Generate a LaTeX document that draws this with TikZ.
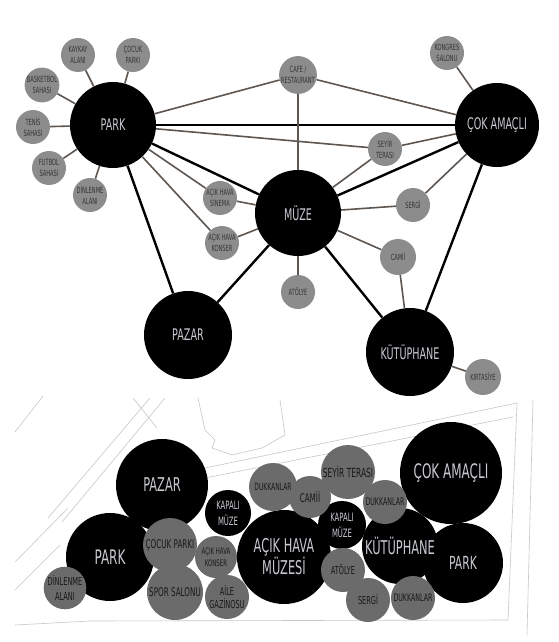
\documentclass[tikz,border=0pt]{standalone}
\usepackage{fontspec}
\newfontfamily\bdfont[FakeStretch=0.6]{DejaVu Sans}
\usetikzlibrary{positioning}
\definecolor{bdgray}{HTML}{8C8C8C}
\definecolor{spgray}{HTML}{6B6B6B}
\definecolor{bdline}{HTML}{5E5650}
\definecolor{bdlight}{HTML}{C8CAD2}
\tikzset{
  bdmain/.style={
    circle, fill=black, minimum size=86pt, inner sep=0pt,
    text=bdlight, font=\bdfont\fontsize{16}{18}\selectfont
  },
  bdsub/.style={
    circle, fill=bdgray, minimum size=34pt, inner sep=0pt,
    align=center, text=black!80, font=\bdfont\fontsize{8.5}{11}\selectfont
  },
  bdmajor/.style={line width=2.4pt, draw=black},
  bdminor/.style={line width=1.6pt, draw=bdline},
  spbig/.style={circle, fill=black, inner sep=0pt, align=center, text=bdlight},
  spsmall/.style={circle, fill=spgray, inner sep=0pt, align=center, text=black!90},
  spplan/.style={draw=black!22, line width=0.6pt},
}

\begin{document}
\begin{tikzpicture}[x=1pt, y=-1pt]
  \fill[white] (0,0) rectangle (559,642);
  \useasboundingbox (0,0) rectangle (559,642);

  % relation diagram
  \node (n1) [bdmain] at (113,125) {PARK};
  \node (n2) [bdmain, minimum size=84pt] at (497,125) {ÇOK AMAÇLI};
  \node (n3) [bdmain] at (298,213) {MÜZE};
  \node (n4) [bdmain, minimum size=88pt] at (188,335) {PAZAR};
  \node (n5) [bdmain, minimum size=88pt] at (410,352) {KÜTÜPHANE};
  \node (n6) [bdsub] at (78,55) {KAYKAY\\ALANI};
  \node (n7) [bdsub] at (133,55) {ÇOCUK\\PARKI};
  \node (n8) [bdsub] at (42,85) {BASKETBOL\\SAHASI};
  \node (n9) [bdsub] at (33,127) {TENİS\\SAHASI};
  \node (n10) [bdsub] at (49,168) {FUTBOL\\SAHASI};
  \node (n11) [bdsub] at (90,195) {DİNLENME\\ALANI};
  \node (n12) [bdsub] at (298,75) {CAFE /\\RESTAURANT};
  \node (n13) [bdsub] at (447,53) {KONGRES\\SALONU};
  \node (n14) [bdsub] at (385,149) {SEYİR\\TERASI};
  \node (n15) [bdsub] at (220,198) {AÇIK HAVA\\SİNEMA};
  \node (n16) [bdsub] at (222,243) {AÇIK HAVA\\KONSER};
  \node (n17) [bdsub] at (413,205) {SERGİ};
  \node (n18) [bdsub, minimum size=36pt] at (398,257) {CAMİİ};
  \node (n19) [bdsub] at (298,292) {ATÖLYE};
  \node (n20) [bdsub, minimum size=36pt] at (483,377) {KIRTASİYE};
  \draw[bdmajor] (n1)--(n2); \draw[bdmajor] (n1)--(n3); \draw[bdmajor] (n1)--(n4);
  \draw[bdmajor] (n3)--(n4); \draw[bdmajor] (n3)--(n2); \draw[bdmajor] (n3)--(n5);
  \draw[bdmajor] (n2)--(n5);
  \draw[bdminor] (n1)--(n6); \draw[bdminor] (n1)--(n7); \draw[bdminor] (n1)--(n8);
  \draw[bdminor] (n1)--(n9); \draw[bdminor] (n1)--(n10); \draw[bdminor] (n1)--(n11);
  \draw[bdminor] (n1)--(n12); \draw[bdminor] (n12)--(n2); \draw[bdminor] (n12)--(n3);
  \draw[bdminor] (n1)--(n14); \draw[bdminor] (n14)--(n2); \draw[bdminor] (n14)--(n3);
  \draw[bdminor] (n1)--(n15); \draw[bdminor] (n15)--(n3);
  \draw[bdminor] (n1)--(n16); \draw[bdminor] (n16)--(n3);
  \draw[bdminor] (n3)--(n17); \draw[bdminor] (n17)--(n2);
  \draw[bdminor] (n3)--(n18); \draw[bdminor] (n18)--(n5);
  \draw[bdminor] (n3)--(n19); \draw[bdminor] (n5)--(n20);
  \draw[bdminor] (n2)--(n13);

  % site plan
  \draw[spplan] (15,432)--(43,396);
  \draw[spplan] (15,562)--(68,508);
  \draw[spplan] (15,590)--(60,545);
  \draw[spplan] (48,518)--(150,398);
  \draw[spplan] (62,522)--(165,398);
  \draw[spplan] (133,398)--(157,428);
  \draw[spplan] (198,398)--(205,430)--(215,440)--(212,448)--(232,455)--(262,448)--(285,435)--(280,400);
  \draw[spplan] (205,468)--(517,403);
  \draw[spplan] (205,478)--(513,417);
  \draw[spplan] (517,403)--(508,620);
  \draw[spplan] (533,400)--(527,635);
  \draw[spplan] (15,625)--(90,621)--(508,620);

  % site placement
  \node (m1) [spbig, minimum size=92pt, font=\bdfont\fontsize{19}{21}\selectfont] at (162,485) {PAZAR};
  \node (m2) [spbig, minimum size=88pt, font=\bdfont\fontsize{20}{22}\selectfont] at (110,557) {PARK};
  \node (m3) [spbig, minimum size=46pt, font=\bdfont\fontsize{11.5}{16}\selectfont] at (228,513) {KAPALI\\MÜZE};
  \node (m4) [spbig, minimum size=94pt, font=\bdfont\fontsize{19}{21}\selectfont] at (284,557) {AÇIK HAVA\\MÜZESİ};
  \node (m5) [spbig, minimum size=48pt, font=\bdfont\fontsize{11.5}{16}\selectfont] at (342,525) {KAPALI\\MÜZE};
  \node (m8) [spbig, minimum size=80pt, font=\bdfont\fontsize{18}{20}\selectfont] at (463,563) {PARK};
  \node (m6) [spbig, minimum size=76pt, font=\bdfont\fontsize{19}{21}\selectfont] at (400,546) {KÜTÜPHANE};
  \node (m7) [spbig, minimum size=102pt, font=\bdfont\fontsize{20}{22}\selectfont] at (451,473) {ÇOK AMAÇLI};
  \node (m9) [spsmall, minimum size=40pt, font=\bdfont\fontsize{11}{15}\selectfont] at (65,588) {DİNLENME\\ALANI};
  \node (m10) [spsmall, minimum size=54pt, font=\bdfont\fontsize{12}{14}\selectfont] at (170,545) {ÇOCUK PARKI};
  \node (m11) [spsmall, minimum size=56pt, font=\bdfont\fontsize{12}{14}\selectfont] at (175,592) {SPOR SALONU};
  \node (m12) [spsmall, minimum size=42pt, font=\bdfont\fontsize{9}{12}\selectfont] at (216,557) {AÇIK HAVA\\KONSER};
  \node (m13) [spsmall, minimum size=44pt, font=\bdfont\fontsize{11}{13}\selectfont] at (227,597) {AİLE\\GAZİNOSU};
  \node (m15) [spsmall, minimum size=42pt, font=\bdfont\fontsize{12}{14}\selectfont] at (310,497) {CAMİİ};
  \node (m14) [spsmall, minimum size=48pt, font=\bdfont\fontsize{10}{12}\selectfont] at (273,487) {DUKKANLAR};
  \node (m16) [spsmall, minimum size=54pt, font=\bdfont\fontsize{12.5}{14}\selectfont] at (348,472) {SEYİR TERASI};
  \node (m17) [spsmall, minimum size=44pt, font=\bdfont\fontsize{10.5}{13}\selectfont] at (385,502) {DUKKANLAR};
  \node (m18) [spsmall, minimum size=44pt, font=\bdfont\fontsize{11}{13}\selectfont] at (343,570) {ATÖLYE};
  \node (m19) [spsmall, minimum size=44pt, font=\bdfont\fontsize{11}{13}\selectfont] at (368,600) {SERGİ};
  \node (m20) [spsmall, minimum size=44pt, font=\bdfont\fontsize{10.5}{13}\selectfont] at (413,598) {DUKKANLAR};
\end{tikzpicture}
\end{document}
